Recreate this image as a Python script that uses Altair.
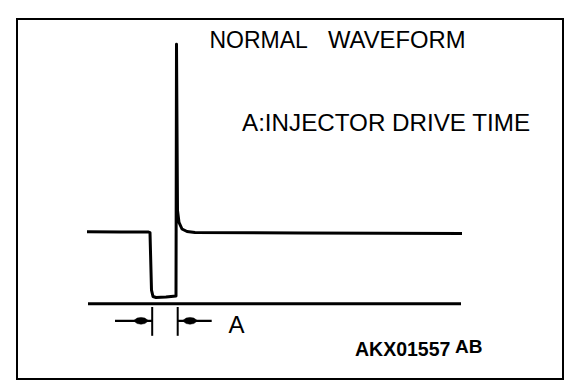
import altair as alt
import pandas as pd

# ---- data (time in ms, voltage in V) ----
wave_t = [-6.4, -3.0, -0.3, -0.1, 0.05, 0.2, 0.5, 1.5, 2.5, 2.55, 2.65, 2.8, 3.1, 3.6, 4.4, 15.0, 31.1]
wave_v = [12.05, 12.0, 12.02, 11.9, 2.3, 1.25, 1.08, 1.15, 1.35, 43.3, 15.6, 13.6, 12.5, 12.08, 11.92, 11.85, 11.75]

ground_t = [-6.3, 31.0]
ground_v = [0.05]

# injector drive time markers
marker_t = [0.12, 2.67]          # vertical ticks at the start / end of drive time
marker_v = [-0.5, -5.3]          # tick extent
arrow_shaft_t = [[-3.6, 0.12], [2.67, 6.07]]
arrow_v = -2.8
arrowhead_t = [-1.0, 3.9]

label_text = ["NORMAL", "WAVEFORM", "A:INJECTOR DRIVE TIME", "A", "AKX01557", "AB"]
label_t = [5.85, 17.7, 9.1, 8.55, 20.4, 30.4]
label_v = [42.62, 42.62, 28.83, -4.83, -8.67, -8.17]
label_size = [23.0, 23.8, 24.2, 24, 19.5, 19.0]
label_weight = ["normal", "normal", "normal", "normal", "bold", "bold"]
label_align = ["left", "left", "left", "center", "left", "left"]

# ---- scales ----
xs = alt.Scale(domain=[-13.4, 41.2], nice=False, zero=False)
ys = alt.Scale(domain=[-12.5, 47.5], nice=False, zero=False)

wave_df = pd.DataFrame({"t": wave_t, "v": wave_v, "i": list(range(len(wave_t)))})
wave = alt.Chart(wave_df).mark_line(color="black", strokeWidth=3, strokeJoin="round").encode(
    x=alt.X("t:Q", scale=xs, axis=None),
    y=alt.Y("v:Q", scale=ys, axis=None),
    order="i:Q",
)

ground_df = pd.DataFrame({"t": [ground_t[0]], "t2": [ground_t[1]], "v": ground_v})
ground = alt.Chart(ground_df).mark_rule(color="black", strokeWidth=3).encode(
    x=alt.X("t:Q", scale=xs, axis=None), x2="t2:Q",
    y=alt.Y("v:Q", scale=ys, axis=None),
)

tick_df = pd.DataFrame({"t": marker_t, "v": [marker_v[0]] * 2, "v2": [marker_v[1]] * 2})
ticks = alt.Chart(tick_df).mark_rule(color="black", strokeWidth=2).encode(
    x=alt.X("t:Q", scale=xs, axis=None),
    y=alt.Y("v:Q", scale=ys, axis=None), y2="v2:Q",
)

shaft_df = pd.DataFrame({
    "t": [s[0] for s in arrow_shaft_t],
    "t2": [s[1] for s in arrow_shaft_t],
    "v": [arrow_v] * 2,
})
shafts = alt.Chart(shaft_df).mark_rule(color="black", strokeWidth=2.2).encode(
    x=alt.X("t:Q", scale=xs, axis=None), x2="t2:Q",
    y=alt.Y("v:Q", scale=ys, axis=None),
)

blob = "M-1,0L-0.5,-0.36L0,-0.45L0.5,-0.36L1,0L0.5,0.36L0,0.45L-0.5,0.36Z"
head_df = pd.DataFrame({"t": arrowhead_t, "v": [arrow_v] * 2})
heads = alt.Chart(head_df).mark_point(
    shape=blob, filled=True, fill="black", stroke="black", strokeWidth=0.5, opacity=1, size=230
).encode(
    x=alt.X("t:Q", scale=xs, axis=None),
    y=alt.Y("v:Q", scale=ys, axis=None),
)

layers = [wave, ground, ticks, shafts, heads]
for txt, t, v, sz, wt, al in zip(label_text, label_t, label_v, label_size, label_weight, label_align):
    d = pd.DataFrame({"t": [t], "v": [v], "s": [txt]})
    layers.append(
        alt.Chart(d).mark_text(
            font="Liberation Sans", fontSize=sz, fontWeight=wt, align=al,
            baseline="alphabetic", color="black",
        ).encode(
            x=alt.X("t:Q", scale=xs, axis=None),
            y=alt.Y("v:Q", scale=ys, axis=None),
            text="s:N",
        )
    )

chart = alt.layer(*layers).properties(
    width=546, height=360,
    padding={"left": 17, "top": 19, "right": 13, "bottom": 11},
    autosize=alt.AutoSizeParams(type="none"),
    background="white",
).configure_view(stroke="black", strokeWidth=2)

chart.save("out.html", embed_options={"renderer": "svg", "actions": False})
